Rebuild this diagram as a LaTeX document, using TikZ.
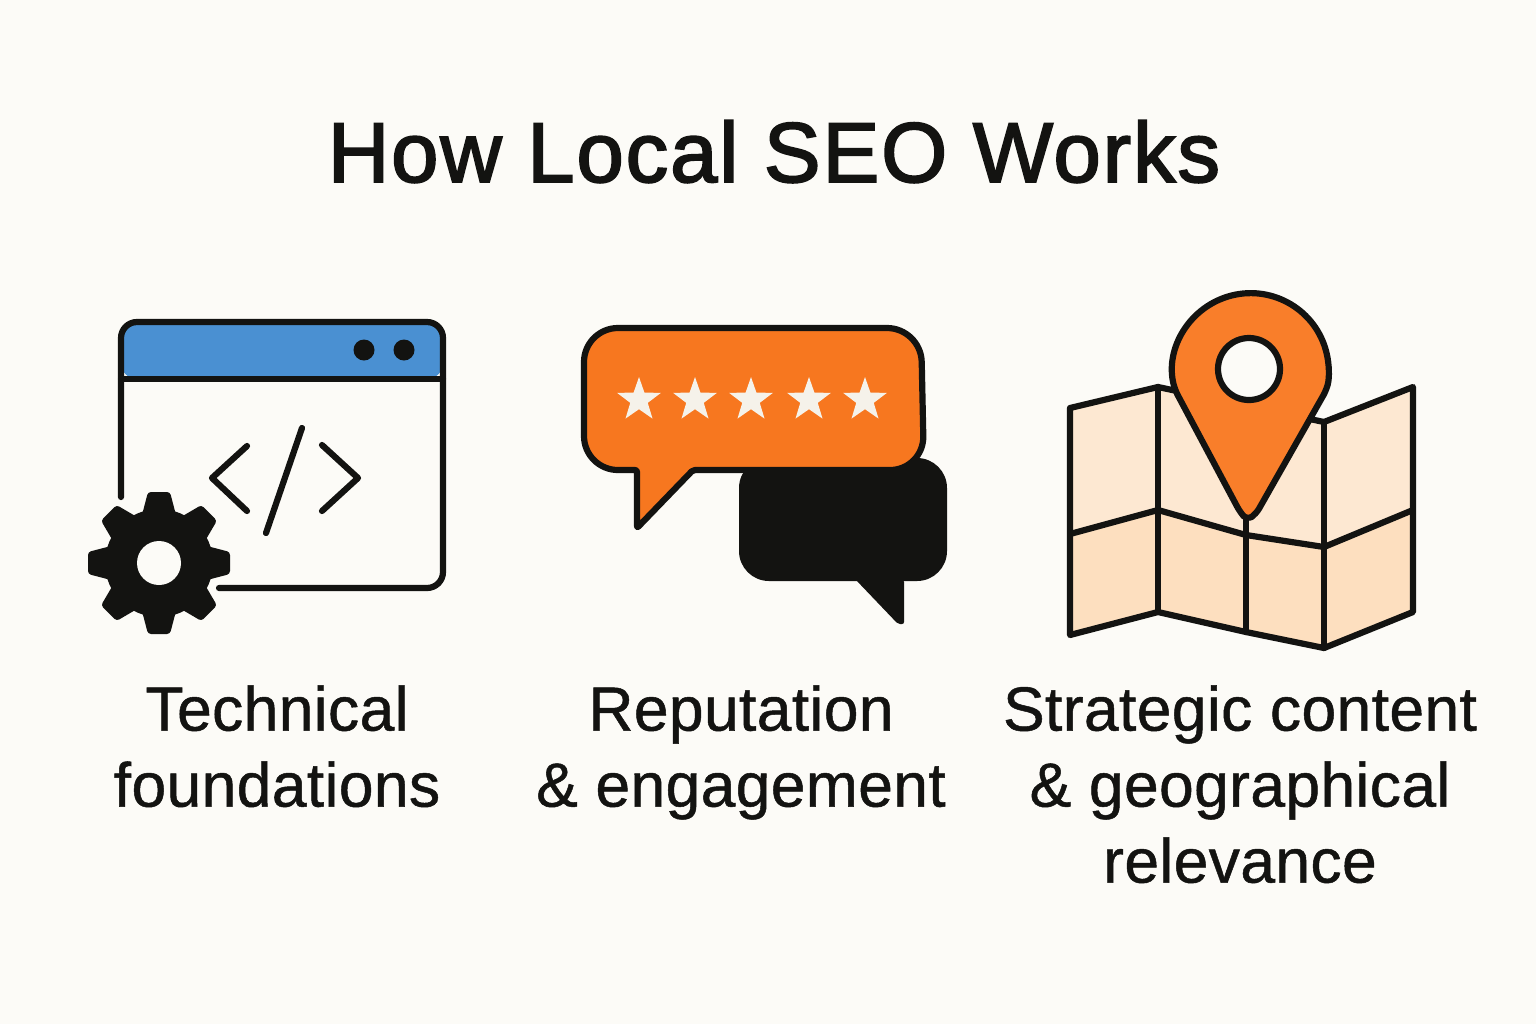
\documentclass[tikz,border=0pt]{standalone}
\usepackage{fontspec}
\setmainfont{Liberation Sans}
\newfontfamily\titlefont[FakeBold=2.2, LetterSpace=2.3]{Liberation Sans}
\newfontfamily\labelfont[FakeBold=0.8, LetterSpace=0.6]{Liberation Sans}
\usetikzlibrary{shapes.geometric}
\definecolor{paper}{HTML}{FCFBF7}
\definecolor{inkblack}{HTML}{131311}
\definecolor{barblue}{HTML}{4A90D2}
\definecolor{bubbleorange}{HTML}{F7771F}
\definecolor{pinorange}{HTML}{F97E2A}
\definecolor{mapupper}{HTML}{FDE8D2}
\definecolor{maplower}{HTML}{FDDFBF}
\definecolor{starwhite}{HTML}{F5F2EA}
\tikzset{
  inkline/.style={draw=inkblack, line width=3.1pt, line join=round, line cap=round},
  captionnode/.style={font=\labelfont\fontsize{31.2}{38}\selectfont, text=inkblack, align=center, inner sep=0pt, anchor=north},
  starnode/.style={star, star points=5, star point ratio=2.5, fill=starwhite, minimum size=23pt, inner sep=0pt}
}

\begin{document}
\begin{tikzpicture}[x=0.5pt, y=0.5pt, yscale=-1]
  \fill[paper] (0,0) rectangle (1536,1024);
  \useasboundingbox (0,0) rectangle (1536,1024);
  \node[font=\titlefont\fontsize{42.5}{50}\selectfont, text=inkblack, inner sep=0pt, anchor=base] (title) at (774,182) {How Local SEO Works};

  % browser window
  \fill[barblue, rounded corners=8pt] (121,379) -- (121,322) -- (443,322) -- (443,379) -- cycle;
  \draw[inkline, rounded corners=8pt] (121,497) -- (121,322) -- (443,322) -- (443,588) -- (219,588);
  \draw[inkline] (121,379) -- (443,379);
  \fill[inkblack] (364,350) circle (10.5);
  \fill[inkblack] (404,350) circle (10.5);
  \draw[inkline] (247,446) -- (212,478) -- (247,511);
  \draw[inkline] (302,428) -- (266,533);
  \draw[inkline] (322,445) -- (358,478) -- (322,511);

  % gear
  \fill[inkblack] (159,563) circle (54);
  \foreach \a in {0,45,...,315} {
    \fill[inkblack, rotate around={\a:(159,563)}, rounded corners=1.5pt] (142,515) -- (148,492) -- (170,492) -- (176,515) -- cycle;
  }
  \fill[paper] (159,563) circle (22);

  % speech bubbles
  \fill[inkblack, rounded corners=15pt] (739,458) -- (947,458) -- (947,581) -- (739,581) -- cycle;
  \fill[inkblack, rounded corners=1pt] (856,580) -- (898,624) -- (904,624) -- (904,580) -- cycle;
  \draw[inkline, fill=bubbleorange] (620,470) [rounded corners=17pt] -- (584,470) -- (584,328) -- (921,328) -- (924,470) [rounded corners=1pt] -- (693,470) -- (637,528) -- (637,470) -- cycle;
  \foreach \x [count=\i] in {639,695,751,809,865} {
    \node[starnode] (star\i) at (\x,400) {};
  }

  % map
  \path[fill=mapupper] (1070,408) -- (1158,387) -- (1324,422) -- (1413,387) -- (1413,510) -- (1324,547) -- (1246,535) -- (1158,510) -- (1070,534) -- cycle;
  \path[fill=maplower] (1070,534) -- (1158,510) -- (1246,535) -- (1324,547) -- (1413,510) -- (1413,612) -- (1324,648) -- (1246,632) -- (1158,612) -- (1070,635) -- cycle;
  \draw[inkline] (1070,408) -- (1158,387) -- (1324,422) -- (1413,387) -- (1413,612) -- (1324,648) -- (1246,632) -- (1158,612) -- (1070,635) -- cycle;
  \draw[inkline] (1070,534) -- (1158,510) -- (1246,535) -- (1324,547) -- (1413,510);
  \draw[inkline] (1158,387) -- (1158,612);
  \draw[inkline] (1324,422) -- (1324,648);
  \draw[inkline] (1246,515) -- (1246,632);

  % pin
  \draw[inkline, fill=pinorange, rounded corners=3pt] (1175,390) arc[start angle=166, end angle=374, radius=78] -- (1256,514) -- (1247,520) -- (1240,512) -- cycle;
  \draw[inkline, fill=paper] (1249,369) circle (31);

  \node[captionnode] (technical) at (277,685) {Technical\\foundations};
  \node[captionnode] (reputation) at (741,685) {Reputation\\\& engagement};
  \node[captionnode] (strategic) at (1240,685) {Strategic content\\\& geographical\\relevance};
\end{tikzpicture}
\end{document}
